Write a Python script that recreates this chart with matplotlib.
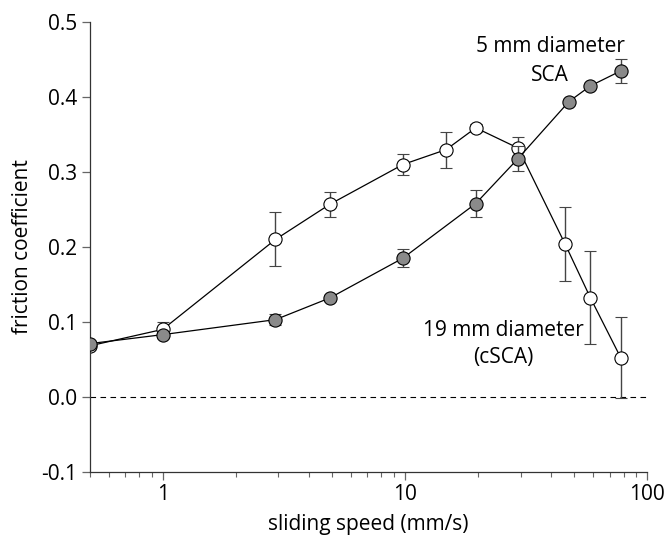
import numpy as np
import matplotlib.pyplot as plt
from matplotlib.ticker import FixedLocator, FuncFormatter, LogLocator, NullFormatter

plt.rcParams['font.family'] = ['Open Sans', 'DejaVu Sans']

# 19 mm diameter (cSCA) - open circles
speed_19 = [0.5, 1.0, 2.92, 4.9, 9.8, 14.8, 19.6, 29.3, 45.8, 58.3, 77.8]
mu_19 = [0.068, 0.090, 0.210, 0.257, 0.310, 0.330, 0.359, 0.332, 0.204, 0.132, 0.052]
err_19 = [0.0, 0.010, 0.036, 0.017, 0.014, 0.024, 0.005, 0.015, 0.049, 0.062, 0.054]

# 5 mm diameter (SCA) - grey circles
speed_5 = [0.5, 1.0, 2.92, 4.9, 9.8, 19.6, 29.3, 47.5, 58.3, 77.8]
mu_5 = [0.071, 0.083, 0.103, 0.132, 0.185, 0.258, 0.318, 0.394, 0.415, 0.435]
err_5 = [0.0, 0.005, 0.007, 0.004, 0.012, 0.018, 0.017, 0.0, 0.0, 0.016]

fig = plt.figure(figsize=(6.7, 5.41), dpi=100)
ax = fig.add_axes([0.134, 0.128, 0.832, 0.831])

ax.axhline(0, color='black', lw=0.8, ls=(0, (5, 4)), zorder=1)

ax.errorbar(speed_19, mu_19, yerr=err_19, fmt='-o', color='black', lw=0.9,
            ecolor='#444444', elinewidth=1.0, capsize=4, capthick=1.0,
            markerfacecolor='white', markeredgecolor='black', markeredgewidth=0.8,
            markersize=9.5, zorder=2)
ax.errorbar(speed_5, mu_5, yerr=err_5, fmt='-o', color='black', lw=0.9,
            ecolor='#444444', elinewidth=1.0, capsize=4, capthick=1.0,
            markerfacecolor='#8a8a8a', markeredgecolor='black', markeredgewidth=0.8,
            markersize=9.5, zorder=3)

ax.set_xscale('log')
ax.set_xlim(0.5, 100)
ax.set_ylim(-0.1, 0.5)
ax.xaxis.set_major_locator(FixedLocator([1, 10, 100]))
ax.xaxis.set_major_formatter(FuncFormatter(lambda v, p: '%g' % v))
ax.xaxis.set_minor_locator(LogLocator(base=10, subs=np.arange(2, 10)))
ax.xaxis.set_minor_formatter(NullFormatter())
ax.set_yticks(np.arange(-0.1, 0.51, 0.1))
ax.yaxis.set_major_formatter(FuncFormatter(lambda v, p: ('%.1f' % v).replace('\u2212', '-')))

for s in ['top', 'right']:
    ax.spines[s].set_visible(False)
for s in ['left', 'bottom']:
    ax.spines[s].set_linewidth(0.9)
    ax.spines[s].set_color('#333333')
ax.tick_params(which='major', length=6, width=0.9, color='#666666', labelsize=15, pad=3)
ax.tick_params(which='minor', length=3.5, width=0.8, color='#666666')

ax.set_xlabel('sliding speed (mm/s)', fontsize=15, labelpad=6)
ax.set_ylabel('friction coefficient', fontsize=15, labelpad=6)

ax.text(39.7, 0.468, '5 mm diameter', ha='center', va='center', fontsize=15)
ax.text(39.7, 0.429, 'SCA', ha='center', va='center', fontsize=15)
ax.text(25.4, 0.089, '19 mm diameter', ha='center', va='center', fontsize=15)
ax.text(25.4, 0.052, '(cSCA)', ha='center', va='center', fontsize=15)

fig.savefig('out.png', dpi=100)
